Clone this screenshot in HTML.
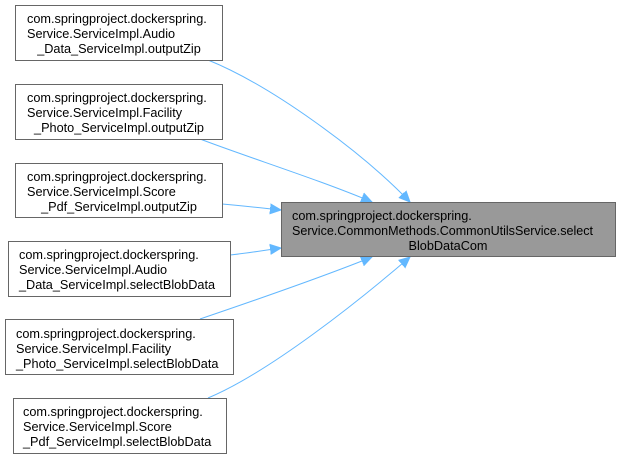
<!DOCTYPE html>
<html><head><style>body{margin:0;background:#fff}svg{display:block}text{font-family:"Liberation Sans",Arial,sans-serif;font-size:12.7px;fill:#000}</style></head><body>
<svg width="620" height="459" viewBox="0 0 620 459" xmlns="http://www.w3.org/2000/svg">
<defs><marker id="a" markerWidth="12" markerHeight="12" refX="11" refY="6" orient="auto" markerUnits="userSpaceOnUse"><path d="M0,1 L11,6 L0,11 z" fill="#63b8ff" stroke="#63b8ff"/></marker></defs>
<g fill="none" stroke="#63b8ff" stroke-width="1">
<path d="M208,60 C270,85 360,150 410,202" marker-end="url(#a)"/>
<path d="M200,139 C250,158 320,180 372,202" marker-end="url(#a)"/>
<path d="M222,204 C245,206 262,208 281,210" marker-end="url(#a)"/>
<path d="M230,255 C250,253 265,250 281,248" marker-end="url(#a)"/>
<path d="M200,319 C250,302 320,278 372,257" marker-end="url(#a)"/>
<path d="M208,398 C270,372 360,300 410,257" marker-end="url(#a)"/>
</g>
<g stroke="#666" fill="#fff">
<rect x="15.5" y="5.5" width="207" height="55"/>
<rect x="15.5" y="84.5" width="207" height="55"/>
<rect x="15.5" y="163.5" width="207" height="54"/>
<rect x="8.5" y="241.5" width="222" height="55"/>
<rect x="5.5" y="319.5" width="228" height="55"/>
<rect x="13.5" y="398.5" width="213" height="55"/>
<rect x="281.5" y="202.5" width="334" height="54" fill="#999"/>
</g>
<text x="27" y="23">com.springproject.dockerspring.</text><text x="27" y="38">Service.ServiceImpl.Audio</text><text x="119" y="53" text-anchor="middle">_Data_ServiceImpl.outputZip</text>
<text x="27" y="102">com.springproject.dockerspring.</text><text x="27" y="117">Service.ServiceImpl.Facility</text><text x="119" y="132" text-anchor="middle">_Photo_ServiceImpl.outputZip</text>
<text x="27" y="181">com.springproject.dockerspring.</text><text x="27" y="196">Service.ServiceImpl.Score</text><text x="119" y="211" text-anchor="middle">_Pdf_ServiceImpl.outputZip</text>
<text x="19" y="259">com.springproject.dockerspring.</text><text x="19" y="274">Service.ServiceImpl.Audio</text><text x="19" y="289">_Data_ServiceImpl.selectBlobData</text>
<text x="16" y="338">com.springproject.dockerspring.</text><text x="16" y="353">Service.ServiceImpl.Facility</text><text x="16" y="368">_Photo_ServiceImpl.selectBlobData</text>
<text x="23" y="416">com.springproject.dockerspring.</text><text x="23" y="431">Service.ServiceImpl.Score</text><text x="23" y="446">_Pdf_ServiceImpl.selectBlobData</text>
<text x="292" y="220">com.springproject.dockerspring.</text><text x="292" y="235" textLength="301" lengthAdjust="spacingAndGlyphs">Service.CommonMethods.CommonUtilsService.select</text><text x="448" y="250" text-anchor="middle">BlobDataCom</text>
</svg>
</body></html>
